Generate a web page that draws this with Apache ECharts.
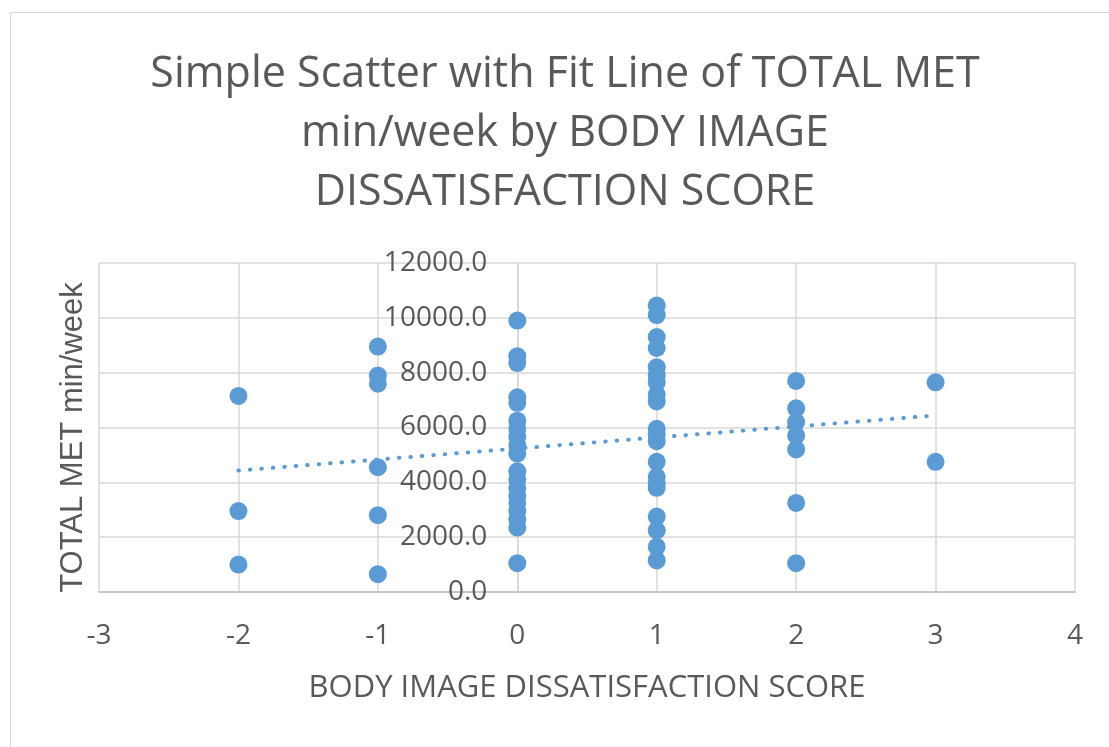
<!DOCTYPE html>
<html>
<head>
<meta charset="utf-8">
<script src="https://cdn.jsdelivr.net/npm/echarts@6/dist/echarts.min.js"></script>
<style>
  html, body { margin: 0; padding: 0; background: #fff; overflow: hidden; }
  #chart {
    position: absolute; left: 10px; top: 12px;
    width: 1110px; height: 760px;
    box-sizing: border-box; border: 1px solid #d9d9d9;
  }
</style>
</head>
<body>
<div id="chart"></div>
<script>
// body image dissatisfaction score groups -> TOTAL MET min/week values
const scoreMinus2 = [7150, 2950, 1000];
const scoreMinus1 = [8950, 7900, 7600, 4550, 2800, 650];
const score0 = [9900, 8600, 8350, 7100, 6900, 6250, 5950, 5650, 5350, 5050, 4400, 4100, 3800, 3500, 3250, 2950, 2650, 2350, 1050];
const score1 = [10450, 10100, 9300, 8900, 8200, 7900, 7650, 7200, 6950, 5950, 5750, 5500, 4750, 4200, 3950, 3800, 2750, 2250, 1650, 1150];
const score2 = [7700, 6700, 6200, 5700, 5200, 3250, 1050];
const score3 = [7650, 4750];

// fit line end points (as drawn)
const fitX = [-2, 3];
const fitY = [4430, 6440];

const textColor = '#595959';
const gridColor = '#d9d9d9';
const dotColor = '#5B9BD5';

let points = [];
[[-2, scoreMinus2], [-1, scoreMinus1], [0, score0], [1, score1], [2, score2], [3, score3]].forEach(function (g) {
  g[1].forEach(function (v) { points.push([g[0], v]); });
});
let fitData = fitX.map(function (x, i) { return [x, fitY[i]]; });

const gridW = 976;
// y axis crosses the x axis at 0: shift it from the left edge to x = 0
const yOffset = -gridW * 3 / 7;

let chart = echarts.init(document.getElementById('chart'));
let option = {
  animation: false,
  title: {
    text: 'Simple Scatter with Fit Line of TOTAL MET\nmin/week by BODY IMAGE\nDISSATISFACTION SCORE',
    left: 'center',
    top: 27,
    textStyle: {
      fontFamily: 'Open Sans',
      fontWeight: 'normal',
      fontSize: 43,
      lineHeight: 59,
      color: textColor
    }
  },
  grid: { left: 88, top: 250, width: gridW, height: 329, outerBoundsMode: 'none' },
  xAxis: {
    type: 'value',
    min: -3,
    max: 4,
    interval: 1,
    name: 'BODY IMAGE DISSATISFACTION SCORE',
    nameLocation: 'middle',
    nameGap: 81,
    nameTextStyle: { fontFamily: 'Open Sans', fontSize: 31, color: textColor },
    axisLine: { lineStyle: { color: '#bfbfbf', width: 1.5 } },
    axisTick: { show: false },
    axisLabel: { fontFamily: 'Open Sans', fontSize: 28, color: textColor, margin: 30 },
    splitLine: { lineStyle: { color: gridColor, width: 1.5 } }
  },
  yAxis: [{
    type: 'value',
    position: 'left',
    offset: yOffset,
    min: 0,
    max: 12000,
    interval: 2000,
    axisLine: { show: true, onZero: false, lineStyle: { color: gridColor, width: 1.5 } },
    axisTick: { show: false },
    axisLabel: {
      fontFamily: 'Open Sans', fontSize: 28, color: textColor, margin: 30,
      formatter: function (v) { return v.toFixed(1); }
    },
    splitLine: { lineStyle: { color: gridColor, width: 1.5 } }
  }, {
    // only carries the axis title at the left edge of the plot
    type: 'value',
    position: 'left',
    min: 0,
    max: 12000,
    name: 'TOTAL MET min/week',
    nameLocation: 'middle',
    nameGap: 10,
    nameTextStyle: { fontFamily: 'Liberation Sans', fontSize: 31, color: textColor, padding: [0, 20, 0, 0] },
    axisLine: { show: false, onZero: false },
    axisTick: { show: false },
    axisLabel: { show: false },
    splitLine: { show: false }
  }],
  series: [{
    type: 'scatter',
    data: points,
    symbolSize: 18,
    itemStyle: { color: dotColor, opacity: 1 },
    z: 3
  }, {
    type: 'line',
    data: fitData,
    showSymbol: false,
    symbol: 'none',
    lineStyle: { color: dotColor, width: 4, type: [0.5, 11], cap: 'round' },
    z: 4
  }]
};
chart.setOption(option);
</script>
</body>
</html>
